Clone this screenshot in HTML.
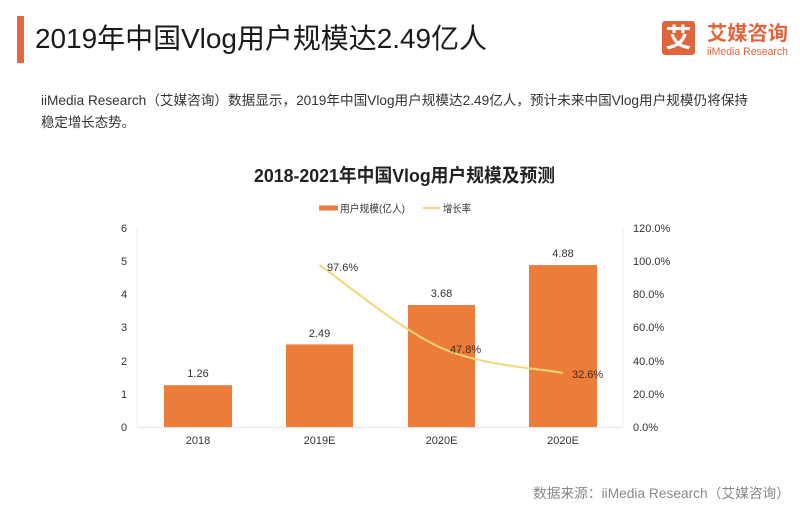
<!DOCTYPE html>
<html><head><meta charset="utf-8"><style>
html,body{margin:0;padding:0;background:#fff;}
svg{display:block;}
text{font-family:"Liberation Sans","Noto Sans CJK SC",sans-serif;}
</style></head><body>
<svg width="800" height="514" viewBox="0 0 800 514" xmlns="http://www.w3.org/2000/svg">
<rect width="800" height="514" fill="#fff"/>
<!-- header -->
<rect x="17" y="16" width="7" height="47" fill="#e8673a"/>
<text x="35" y="48" font-size="28" fill="#1a1a1a" textLength="452" lengthAdjust="spacingAndGlyphs">2019年中国Vlog用户规模达2.49亿人</text>
<!-- logo -->
<rect x="662" y="21" width="33" height="34" rx="3" fill="#e0643c"/>
<text x="678.5" y="47" font-size="26" font-weight="bold" fill="#fff" text-anchor="middle" font-family="Noto Sans CJK SC, sans-serif">艾</text>
<text x="707" y="40" font-size="20" font-weight="bold" fill="#e0643c" textLength="81" lengthAdjust="spacingAndGlyphs">艾媒咨询</text>
<text x="707" y="55" font-size="11" fill="#e0643c" textLength="81" lengthAdjust="spacingAndGlyphs">iiMedia Research</text>
<!-- body text -->
<text x="41" y="105" font-size="13.5" fill="#333" textLength="707" lengthAdjust="spacingAndGlyphs">iiMedia  Research（艾媒咨询）数据显示，2019年中国Vlog用户规模达2.49亿人，预计未来中国Vlog用户规模仍将保持</text>
<text x="41" y="127" font-size="13.5" fill="#333" textLength="94" lengthAdjust="spacingAndGlyphs">稳定增长态势。</text>
<!-- chart title -->
<text x="254" y="182" font-size="18.5" font-weight="bold" fill="#222" textLength="301" lengthAdjust="spacingAndGlyphs">2018-2021年中国Vlog用户规模及预测</text>
<!-- legend -->
<rect x="319" y="205.5" width="19" height="5" fill="#ec7c3a"/>
<text x="340" y="212" font-size="10.5" fill="#333" textLength="65" lengthAdjust="spacingAndGlyphs">用户规模(亿人)</text>
<line x1="423" y1="208" x2="440" y2="208" stroke="#f3d67a" stroke-width="2"/>
<text x="443" y="212" font-size="10.5" fill="#333" textLength="28" lengthAdjust="spacingAndGlyphs">增长率</text>
<!-- plot frame -->
<line x1="137" y1="228" x2="137" y2="427" stroke="#ececec" stroke-width="1"/>
<line x1="623" y1="228" x2="623" y2="427" stroke="#ececec" stroke-width="1"/>
<line x1="137" y1="427.5" x2="623" y2="427.5" stroke="#e6e6e6" stroke-width="1"/>
<!-- left axis -->
<g font-size="11" fill="#333" text-anchor="middle">
<text x="124" y="232">6</text>
<text x="124" y="265">5</text>
<text x="124" y="298">4</text>
<text x="124" y="331">3</text>
<text x="124" y="365">2</text>
<text x="124" y="398">1</text>
<text x="124" y="431">0</text>
</g>
<!-- right axis -->
<g font-size="11" fill="#333">
<text x="633" y="232">120.0%</text>
<text x="633" y="265">100.0%</text>
<text x="633" y="298">80.0%</text>
<text x="633" y="331">60.0%</text>
<text x="633" y="365">40.0%</text>
<text x="633" y="398">20.0%</text>
<text x="633" y="431">0.0%</text>
</g>
<!-- bars -->
<g fill="#ec7c3a">
<rect x="164" y="385.2" width="68" height="41.8"/>
<rect x="286" y="344.4" width="67" height="82.6"/>
<rect x="408" y="305" width="67" height="122"/>
<rect x="529" y="265.1" width="68" height="161.9"/>
</g>
<!-- bar labels -->
<g font-size="11" fill="#333" text-anchor="middle">
<text x="198" y="377">1.26</text>
<text x="319.5" y="337">2.49</text>
<text x="441.5" y="297">3.68</text>
<text x="563" y="257">4.88</text>
</g>
<!-- x labels -->
<g font-size="11" fill="#333" text-anchor="middle">
<text x="198" y="444">2018</text>
<text x="319.5" y="444">2019E</text>
<text x="441.5" y="444">2020E</text>
<text x="563" y="444">2020E</text>
</g>
<!-- growth line -->
<path d="M319.5,265 C339.8,278.8 400.9,330 441.5,348 C482.1,366 542.75,368.8 563,373" fill="none" stroke="#f3d67a" stroke-width="2"/>
<g font-size="11" fill="#333">
<text x="327" y="271">97.6%</text>
<text x="450" y="353" fill="#4a2a1c">47.8%</text>
<text x="572" y="378" fill="#4a2a1c">32.6%</text>
</g>
<!-- footer -->
<text x="533" y="498" font-size="13.5" fill="#888" textLength="257" lengthAdjust="spacingAndGlyphs">数据来源：iiMedia Research（艾媒咨询）</text>
</svg>
</body></html>
